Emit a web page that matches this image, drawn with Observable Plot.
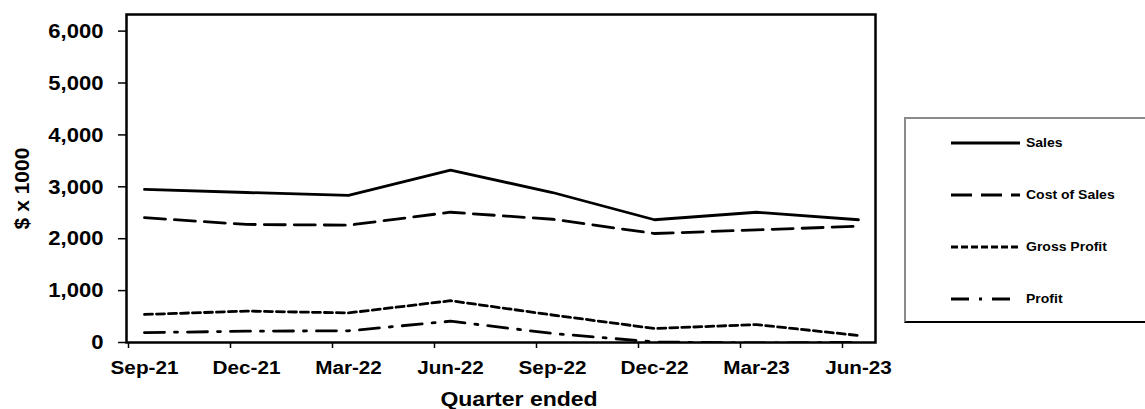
<!DOCTYPE html>
<html>
<head>
<meta charset="utf-8">
<script src="https://cdn.jsdelivr.net/npm/d3@7"></script>
<script src="https://cdn.jsdelivr.net/npm/@observablehq/plot@0.6"></script>
<style>
  html, body { margin: 0; padding: 0; background: #fff; }
  body { width: 1145px; height: 409px; position: relative; overflow: hidden; font-family: "Liberation Sans", Arial, sans-serif; }
  #legend { position: absolute; left: 904px; top: 117px; width: 260px; height: 206px;
    border-left: 2px solid #8a8a8a; border-top: 2px solid #8a8a8a; border-bottom: 2px solid #000; box-sizing: border-box; }
  .item { position: absolute; left: 0; height: 20px; display: flex; align-items: center; }
  .item svg { margin-left: 44px; }
  .item span { margin-left: 6px; font-weight: bold; font-size: 12.5px; color: #000; display: inline-block; transform: scaleX(1.12); transform-origin: left center; white-space: nowrap; }
</style>
</head>
<body>
<div id="chart"></div>
<div id="legend"></div>
<script>
// ---- data ----
const quarters = ["Sep-21", "Dec-21", "Mar-22", "Jun-22", "Sep-22", "Dec-22", "Mar-23", "Jun-23"];
const sales        = [2950, 2890, 2835, 3320, 2890, 2365, 2510, 2365];
const costOfSales  = [2405, 2275, 2260, 2510, 2375, 2100, 2170, 2240];
const grossProfit  = [540, 605, 570, 805, 530, 270, 345, 135];
const profit       = [190, 218, 225, 410, 175, 10, -10, 5];
const seriesNames  = ["Sales", "Cost of Sales", "Gross Profit", "Profit"];
const yTicks       = [0, 1000, 2000, 3000, 4000, 5000, 6000];
const xTitle = "Quarter ended";
const yTitle = "$ x 1000";

// ---- styles ----
const dashes = [null, "21 9", "8 4", "20 10 3 10"];
const seriesValues = [sales, costOfSales, grossProfit, profit];

const lines = seriesValues.map((vals, i) =>
  Plot.lineY(quarters.map((q, j) => ({q, v: vals[j]})), {
    x: "q", y: "v", stroke: "#000", strokeWidth: 2.8,
    strokeDasharray: dashes[i] ?? undefined, strokeLinejoin: "miter", clip: true
  })
);

const plot = Plot.plot({
  width: 1145,
  height: 409,
  marginLeft: 126,
  marginRight: 270,
  marginTop: 14,
  marginBottom: 67,
  style: {fontFamily: "'Liberation Sans', Arial, sans-serif", fontWeight: "bold", color: "#000", background: "#fff", overflow: "visible"},
  x: {type: "point", domain: quarters, padding: 0.16},
  y: {domain: [0, 6320]},
  marks: [
    ...lines,
    Plot.frame({stroke: "#000", strokeWidth: 2.5}),
    Plot.axisY({ticks: yTicks, tickFormat: d3.format(","), tickSize: 8, tickPadding: 15, fontSize: 21, label: null, strokeWidth: 1.5, className: "ytick"}),
    Plot.axisX({tickSize: 6, tickFormat: () => "", dx: -16, label: null, strokeWidth: 1.5}),
    Plot.axisX({tickSize: 0, tickPadding: 19, fontSize: 18, label: null, className: "xtick"}),
    Plot.text([xTitle], {text: d => d, frameAnchor: "bottom", dy: 63, dx: 18, fontSize: 20, fontWeight: "bold", className: "xtitle"}),
    Plot.text([yTitle], {text: d => d, frameAnchor: "left", textAnchor: "middle", dx: -104, dy: 10, rotate: -90, fontSize: 21, fontWeight: "bold", className: "ytitle"})
  ]
});
document.getElementById("chart").appendChild(plot);

// stretch some text horizontally to mimic the reference's wide lettering,
// keeping each label's anchor where it was
const stretch = {".ytick": 1.05, ".xtick": 1.15, ".xtitle": 1.15};
for (const [sel, S] of Object.entries(stretch)) {
  for (const t of plot.querySelectorAll(sel + " text")) {
    const len = t.getComputedTextLength();
    if (len > 0) {
      const b0 = t.getBBox();
      const anchor = getComputedStyle(t).textAnchor;
      t.setAttribute("textLength", (len * S).toFixed(2));
      t.setAttribute("lengthAdjust", "spacingAndGlyphs");
      const b1 = t.getBBox();
      let shift = 0;
      if (anchor === "middle") shift = (b0.x + b0.width / 2) - (b1.x + b1.width / 2);
      else if (anchor === "end") shift = (b0.x + b0.width) - (b1.x + b1.width);
      else shift = b0.x - b1.x;
      if (Math.abs(shift) > 0.1) t.setAttribute("dx", shift.toFixed(2));
    }
  }
}

// ---- legend ----
const legend = document.getElementById("legend");
const itemTops = [26, 78, 130, 182];
seriesNames.forEach((name, i) => {
  const div = document.createElement("div");
  div.className = "item";
  div.style.top = (itemTops[i] - 2 - 10) + "px";
  const svg = d3.create("svg").attr("width", 70).attr("height", 20);
  svg.append("line").attr("x1", 1).attr("x2", 70).attr("y1", 10).attr("y2", 10)
    .attr("stroke", "#000").attr("stroke-width", 2.8)
    .attr("stroke-dasharray", i === 3 ? "18 10 3 10" : (i === 2 ? "7 3" : dashes[i]));
  div.appendChild(svg.node());
  const span = document.createElement("span");
  span.textContent = name;
  div.appendChild(span);
  legend.appendChild(div);
});
</script>
</body>
</html>
